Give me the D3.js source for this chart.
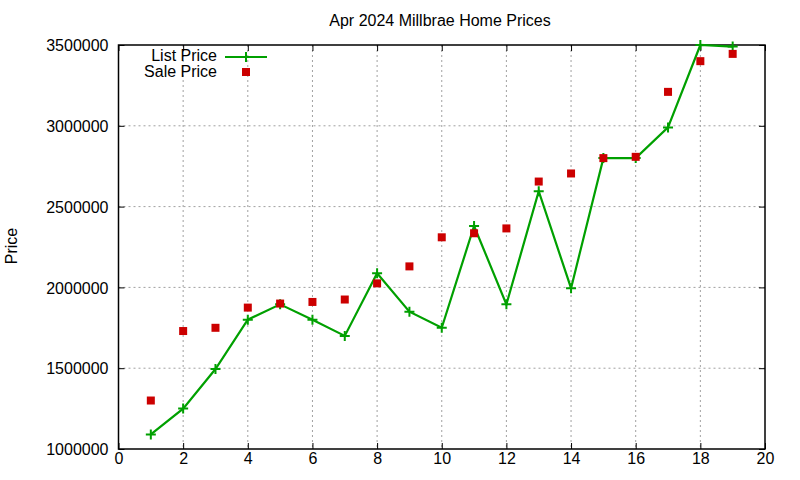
<!DOCTYPE html>
<html>
<head>
<meta charset="utf-8">
<script src="https://cdn.jsdelivr.net/npm/d3@7"></script>
<style>
  html, body { margin: 0; padding: 0; background: #fff; }
  svg { display: block; font-family: "Liberation Sans", Arial, sans-serif; }
</style>
</head>
<body>
<svg id="chart" width="800" height="480"></svg>
<script>
const xValues = [1,2,3,4,5,6,7,8,9,10,11,12,13,14,15,16,17,18,19];
const listPrice = [1090000,1250000,1495000,1800000,1895000,1800000,1700000,2088000,1850000,1750000,2380000,1895000,2595000,1995000,2800000,2800000,2990000,3500000,3490000];
const salePrice = [1300000,1730000,1750000,1875000,1900000,1910000,1925000,2025000,2130000,2310000,2335000,2365000,2655000,2705000,2800000,2808000,3210000,3400000,3445000];
const xTicks = [0,2,4,6,8,10,12,14,16,18,20];
const yTicks = [1000000,1500000,2000000,2500000,3000000,3500000];
const titleText = "Apr 2024 Millbrae Home Prices";
const yLabel = "Price";
const seriesNames = ["List Price", "Sale Price"];

const green = "#00a000", red = "#cc0000";
const L = 118.5, R = 765, T = 45, B = 449;
const svg = d3.select("#chart");
const x = d3.scaleLinear().domain([0, 20]).range([L, R]);
const y = d3.scaleLinear().domain([1000000, 3500000]).range([B, T]);

// grid
const grid = svg.append("g").attr("stroke", "#a0a0a0").attr("stroke-width", 1).attr("stroke-dasharray", "2,3");
xTicks.filter(t => t > 0 && t < 20).forEach(t => {
  grid.append("line").attr("x1", x(t)).attr("x2", x(t)).attr("y1", T).attr("y2", B);
});
yTicks.filter(t => t > 1000000 && t < 3500000).forEach(t => {
  grid.append("line").attr("x1", L).attr("x2", R).attr("y1", y(t)).attr("y2", y(t));
});

// axes
const fmt = d => String(d);
const axB = svg.append("g").attr("transform", `translate(0,${B})`)
  .call(d3.axisBottom(x).tickValues(xTicks).tickSize(-6).tickPadding(12).tickFormat(fmt));
const axT = svg.append("g").attr("transform", `translate(0,${T})`)
  .call(d3.axisTop(x).tickValues(xTicks).tickSize(-6).tickFormat(""));
const axL = svg.append("g").attr("transform", `translate(${L},0)`)
  .call(d3.axisLeft(y).tickValues(yTicks).tickSize(-6).tickPadding(10).tickFormat(fmt));
const axR = svg.append("g").attr("transform", `translate(${R},0)`)
  .call(d3.axisRight(y).tickValues(yTicks).tickSize(-6).tickFormat(""));
[axB, axT, axL, axR].forEach(a => {
  a.select(".domain").remove();
  a.selectAll(".tick line").attr("stroke", "#000");
  a.selectAll("text").attr("font-size", 16).attr("fill", "#000").attr("font-family", "Liberation Sans, Arial, sans-serif");
});
axB.selectAll("text").attr("dy", "0.2em");
axL.selectAll("text").attr("dy", "0.35em");
svg.append("rect").attr("x", L).attr("y", T).attr("width", R - L).attr("height", B - T)
  .attr("fill", "none").attr("stroke", "#000").attr("stroke-width", 1.5);

// title + y label
svg.append("text").attr("x", 440).attr("y", 26).attr("text-anchor", "middle")
  .attr("font-size", 16).text(titleText);
svg.append("text").attr("transform", "translate(17,246) rotate(-90)").attr("text-anchor", "middle")
  .attr("font-size", 16).text(yLabel);

// list price line
const line = d3.line().x((d, i) => x(xValues[i])).y(d => y(d));
svg.append("path").datum(listPrice).attr("d", line)
  .attr("fill", "none").attr("stroke", green).attr("stroke-width", 2.2);
const cross = (g, cx, cy) => {
  g.append("path").attr("d", `M${cx-5},${cy}H${cx+5}M${cx},${cy-5}V${cy+5}`)
    .attr("stroke", green).attr("stroke-width", 2).attr("fill", "none");
};
const crossG = svg.append("g");
listPrice.forEach((v, i) => cross(crossG, x(xValues[i]), y(v)));

// sale price squares
svg.append("g").selectAll("rect").data(salePrice).join("rect")
  .attr("x", (d, i) => x(xValues[i]) - 4).attr("y", d => y(d) - 4)
  .attr("width", 8).attr("height", 8).attr("fill", red);

// legend
const lg = svg.append("g").attr("font-size", 16);
lg.append("text").attr("x", 217).attr("y", 61).attr("text-anchor", "end").text(seriesNames[0]);
lg.append("text").attr("x", 217).attr("y", 77).attr("text-anchor", "end").text(seriesNames[1]);
lg.append("line").attr("x1", 225).attr("x2", 267).attr("y1", 57).attr("y2", 57)
  .attr("stroke", green).attr("stroke-width", 2.2);
cross(lg, 246, 57);
lg.append("rect").attr("x", 242).attr("y", 68).attr("width", 8).attr("height", 8).attr("fill", red);
</script>
</body>
</html>
